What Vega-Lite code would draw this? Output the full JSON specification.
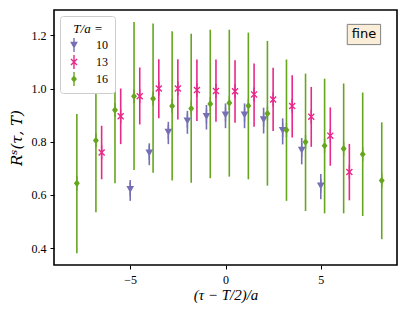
{
  "$schema": "https://vega.github.io/schema/vega-lite/v6.json",
  "width": 343,
  "height": 255,
  "autosize": {"type": "none"},
  "padding": {"left": 54, "top": 10, "right": 10, "bottom": 48},
  "background": "white",
  "config": {
    "view": {"stroke": "black", "strokeWidth": 1.6},
    "axis": {
      "grid": false,
      "domain": false,
      "tickColor": "black",
      "tickSize": 4,
      "labelFont": "Liberation Serif",
      "labelFontSize": 12,
      "labelColor": "black",
      "titleFont": "Liberation Serif",
      "titleFontSize": 15,
      "titleFontWeight": "normal",
      "titleFontStyle": "italic",
      "titleColor": "black"
    },
    "legend": {
      "orient": "top-left", "offset": 6, "padding": 7,
      "fillColor": "white", "strokeColor": "#cccccc", "cornerRadius": 3,
      "titleFont": "Liberation Serif", "titleFontStyle": "italic", "titleFontWeight": "normal", "titleFontSize": 13, "titleColor": "black",
      "titlePadding": 2, "titleAnchor": "middle",
      "labelFont": "Liberation Serif", "labelFontSize": 12, "labelColor": "black", "labelOffset": 15,
      "rowPadding": 3, "symbolSize": 196, "symbolStrokeWidth": 0, "symbolOpacity": 1
    }
  },
  "datasets": {
    "pts": [
      {"x": -5.0, "y": 0.622, "lo": 0.578, "hi": 0.656, "Ta": "10"},
      {"x": -4.0, "y": 0.759, "lo": 0.712, "hi": 0.794, "Ta": "10"},
      {"x": -3.0, "y": 0.837, "lo": 0.791, "hi": 0.875, "Ta": "10"},
      {"x": -2.0, "y": 0.879, "lo": 0.830, "hi": 0.916, "Ta": "10"},
      {"x": -1.0, "y": 0.896, "lo": 0.846, "hi": 0.938, "Ta": "10"},
      {"x": 0.0, "y": 0.902, "lo": 0.851, "hi": 0.944, "Ta": "10"},
      {"x": 1.0, "y": 0.902, "lo": 0.851, "hi": 0.944, "Ta": "10"},
      {"x": 2.0, "y": 0.884, "lo": 0.831, "hi": 0.928, "Ta": "10"},
      {"x": 3.0, "y": 0.844, "lo": 0.790, "hi": 0.888, "Ta": "10"},
      {"x": 4.0, "y": 0.769, "lo": 0.715, "hi": 0.814, "Ta": "10"},
      {"x": 5.0, "y": 0.635, "lo": 0.584, "hi": 0.679, "Ta": "10"},
      {"x": -6.5, "y": 0.760, "lo": 0.659, "hi": 0.860, "Ta": "13"},
      {"x": -5.5, "y": 0.896, "lo": 0.791, "hi": 1.000, "Ta": "13"},
      {"x": -4.5, "y": 0.971, "lo": 0.865, "hi": 1.079, "Ta": "13"},
      {"x": -3.5, "y": 1.000, "lo": 0.888, "hi": 1.110, "Ta": "13"},
      {"x": -2.5, "y": 1.000, "lo": 0.884, "hi": 1.110, "Ta": "13"},
      {"x": -1.5, "y": 0.994, "lo": 0.878, "hi": 1.109, "Ta": "13"},
      {"x": -0.5, "y": 0.991, "lo": 0.875, "hi": 1.109, "Ta": "13"},
      {"x": 0.5, "y": 0.990, "lo": 0.871, "hi": 1.106, "Ta": "13"},
      {"x": 1.5, "y": 0.978, "lo": 0.856, "hi": 1.094, "Ta": "13"},
      {"x": 2.5, "y": 0.959, "lo": 0.840, "hi": 1.078, "Ta": "13"},
      {"x": 3.5, "y": 0.934, "lo": 0.816, "hi": 1.050, "Ta": "13"},
      {"x": 4.5, "y": 0.894, "lo": 0.781, "hi": 1.006, "Ta": "13"},
      {"x": 5.5, "y": 0.823, "lo": 0.710, "hi": 0.929, "Ta": "13"},
      {"x": 6.5, "y": 0.686, "lo": 0.580, "hi": 0.792, "Ta": "13"},
      {"x": -7.8, "y": 0.644, "lo": 0.381, "hi": 0.904, "Ta": "16"},
      {"x": -6.8, "y": 0.805, "lo": 0.535, "hi": 1.075, "Ta": "16"},
      {"x": -5.8, "y": 0.919, "lo": 0.644, "hi": 1.191, "Ta": "16"},
      {"x": -4.8, "y": 0.971, "lo": 0.694, "hi": 1.250, "Ta": "16"},
      {"x": -3.8, "y": 0.962, "lo": 0.684, "hi": 1.244, "Ta": "16"},
      {"x": -2.8, "y": 0.934, "lo": 0.654, "hi": 1.215, "Ta": "16"},
      {"x": -1.8, "y": 0.925, "lo": 0.646, "hi": 1.206, "Ta": "16"},
      {"x": -0.8, "y": 0.942, "lo": 0.663, "hi": 1.221, "Ta": "16"},
      {"x": 0.2, "y": 0.946, "lo": 0.669, "hi": 1.221, "Ta": "16"},
      {"x": 1.2, "y": 0.935, "lo": 0.659, "hi": 1.210, "Ta": "16"},
      {"x": 2.2, "y": 0.906, "lo": 0.635, "hi": 1.179, "Ta": "16"},
      {"x": 3.2, "y": 0.844, "lo": 0.578, "hi": 1.109, "Ta": "16"},
      {"x": 4.2, "y": 0.799, "lo": 0.540, "hi": 1.056, "Ta": "16"},
      {"x": 5.2, "y": 0.785, "lo": 0.531, "hi": 1.037, "Ta": "16"},
      {"x": 6.2, "y": 0.774, "lo": 0.531, "hi": 1.019, "Ta": "16"},
      {"x": 7.2, "y": 0.753, "lo": 0.521, "hi": 0.985, "Ta": "16"},
      {"x": 8.2, "y": 0.654, "lo": 0.434, "hi": 0.873, "Ta": "16"}
    ],
    "box": [
      {"x": 6.39, "x2": 8.14, "y": 1.165, "y2": 1.241, "xm": 7.265, "ym": 1.203, "label": "fine"}
    ]
  },
  "layer": [
    {
      "data": {"name": "pts"},
      "mark": {"type": "rule", "strokeWidth": 1.6},
      "encoding": {
        "x": {"field": "x", "type": "quantitative", "scale": {"domain": [-9, 9], "nice": false, "zero": false},
              "axis": {"values": [-5, 0, 5], "labelExpr": "replace(datum.label, '-', '−')", "labelPadding": 5, "title": "(τ − T/2)/a", "titlePadding": 2}},
        "y": {"field": "lo", "type": "quantitative", "scale": {"domain": [0.337, 1.295], "nice": false, "zero": false},
              "axis": {"values": [0.4, 0.6, 0.8, 1.0, 1.2], "format": ".1f", "labelPadding": 4, "title": "Rˢ(τ, T)", "titleFont": "DejaVu Serif", "titleFontSize": 15, "titlePadding": 7}},
        "y2": {"field": "hi"},
        "color": {"field": "Ta", "type": "nominal", "title": "T/a =",
                  "scale": {"domain": ["10", "13", "16"], "range": ["#7570b3", "#e7298a", "#66a61e"]}}
      }
    },
    {
      "data": {"name": "pts"},
      "mark": {"type": "point", "filled": true, "opacity": 1, "size": 196, "strokeWidth": 0},
      "encoding": {
        "x": {"field": "x", "type": "quantitative"},
        "y": {"field": "y", "type": "quantitative"},
        "color": {"field": "Ta", "type": "nominal", "title": "T/a =",
                  "scale": {"domain": ["10", "13", "16"], "range": ["#7570b3", "#e7298a", "#66a61e"]}},
        "shape": {"field": "Ta", "type": "nominal", "title": "T/a =",
                  "scale": {"domain": ["10", "13", "16"], "range": [
                    "M-0.55,-0.45L0.55,-0.45L0,0.55Z M-0.1,-1L0.1,-1L0.1,1L-0.1,1Z",
                    "M-0.36,-0.5L0.5,0.36L0.36,0.5L-0.5,-0.36Z M0.36,-0.5L0.5,-0.36L-0.36,0.5L-0.5,0.36Z M-0.1,-1L0.1,-1L0.1,1L-0.1,1Z",
                    "M0,-0.55L0.42,0L0,0.55L-0.42,0Z M-0.1,-1L0.1,-1L0.1,1L-0.1,1Z"
                  ]}}
      }
    },
    {
      "data": {"name": "box"},
      "mark": {"type": "rect", "fill": "#faeed9", "stroke": "#808080", "strokeWidth": 1},
      "encoding": {
        "x": {"field": "x", "type": "quantitative"},
        "x2": {"field": "x2"},
        "y": {"field": "y", "type": "quantitative"},
        "y2": {"field": "y2"}
      }
    },
    {
      "data": {"name": "box"},
      "mark": {"type": "text", "font": "DejaVu Sans", "fontSize": 13, "color": "black", "baseline": "middle", "align": "center"},
      "encoding": {
        "x": {"field": "xm", "type": "quantitative"},
        "y": {"field": "ym", "type": "quantitative"},
        "text": {"field": "label"}
      }
    }
  ]
}
